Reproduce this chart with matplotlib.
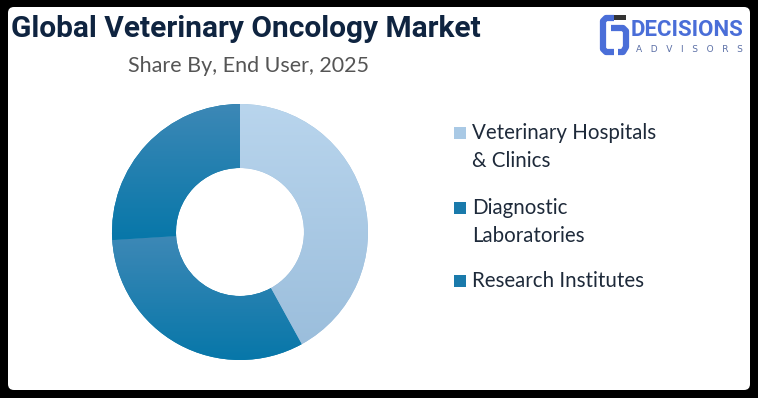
import numpy as np
import matplotlib
matplotlib.use("Agg")
import matplotlib.pyplot as plt
from matplotlib.patches import FancyBboxPatch, Rectangle
from matplotlib.colors import LinearSegmentedColormap

# ---- data ----
title = "Global Veterinary Oncology Market"
subtitle = "Share By, End User, 2025"
categories = ["Veterinary Hospitals\n& Clinics", "Diagnostic\nLaboratories", "Research Institutes"]
shares = [42, 32, 26]

# gradients (top colour, bottom colour) per slice
grad_colors = [("#b9d5ed", "#9bbedc"), ("#3d88b6", "#0777a9"), ("#3d88b6", "#0777a9")]
legend_colors = ["#a9c9e5", "#1a7aab", "#1a7aab"]

W, H = 758, 398
fig = plt.figure(figsize=(W / 100, H / 100), dpi=100)
fig.patch.set_facecolor("black")

# white rounded panel
bg = fig.add_axes([0, 0, 1, 1])
bg.set_xlim(0, W); bg.set_ylim(H, 0); bg.axis("off")
bg.add_patch(FancyBboxPatch((8, 7), W - 16, H - 15, boxstyle="round,pad=0,rounding_size=6",
                            facecolor="white", edgecolor="none"))

# titles
bg.text(11, 29, title, fontsize=21.5, fontweight="bold", color="#0f2440",
        family="Roboto", va="center", ha="left")
bg.text(248, 66, subtitle, fontsize=15.5, color="#555555", family="Lato",
        va="center", ha="center")

# logo
logo_blue = "#4a6ed8"
bg.plot([614, 606, 603, 603, 606, 614], [18, 18, 21, 49, 52, 52], color=logo_blue, lw=4.5,
        solid_capstyle="butt", solid_joinstyle="round")
bg.plot([611, 623, 626, 626, 623, 618], [28, 28, 31, 47, 52, 52], color=logo_blue, lw=4.5,
        solid_capstyle="butt", solid_joinstyle="round")
bg.add_patch(Rectangle((612, 15), 14, 5, facecolor="#333333", edgecolor="none"))
bg.text(631, 30, "DECISIONS", fontsize=16, fontweight="bold", color=logo_blue,
        family="Roboto", va="center", ha="left")
bg.text(636, 49, "A   D   V   I   S   O   R   S", fontsize=6.5, color="#5b6fa6",
        family="DejaVu Sans", va="center", ha="left")

# donut
cx, cy, R = 240, 232, 128
ax = fig.add_axes([(cx - 135) / W, (H - cy - 135) / H, 270 / W, 270 / H])
wedges, _ = ax.pie(shares, radius=R, startangle=90, counterclock=False,
                   colors=[c[1] for c in grad_colors],
                   wedgeprops=dict(width=R / 2, edgecolor="none", linewidth=0))
ax.set_xlim(-135, 135); ax.set_ylim(-135, 135); ax.set_aspect("auto"); ax.axis("off")
for w, (ctop, cbot) in zip(wedges, grad_colors):
    ext = w.get_path().get_extents()
    cmap = LinearSegmentedColormap.from_list("g", [cbot, ctop])
    grad = np.linspace(0, 1, 256).reshape(-1, 1)
    im = ax.imshow(grad, cmap=cmap, origin="lower", aspect="auto",
                   extent=[ext.x0, ext.x1, ext.y0, ext.y1], zorder=3, interpolation="bilinear")
    im.set_clip_path(w)
ax.set_xlim(-135, 135); ax.set_ylim(-135, 135)

# legend
leg_y = [133, 208, 281]
for lab, col, y in zip(categories, legend_colors, leg_y):
    bg.add_patch(Rectangle((454, y - 6), 12, 12, facecolor=col, edgecolor="none"))
    for i, line in enumerate(lab.split("\n")):
        bg.text(472, y + i * 28, line, fontsize=14.8, color="#1e2a3a", family="Lato",
                va="center", ha="left")

fig.savefig("out.png", dpi=100, facecolor=fig.get_facecolor())
